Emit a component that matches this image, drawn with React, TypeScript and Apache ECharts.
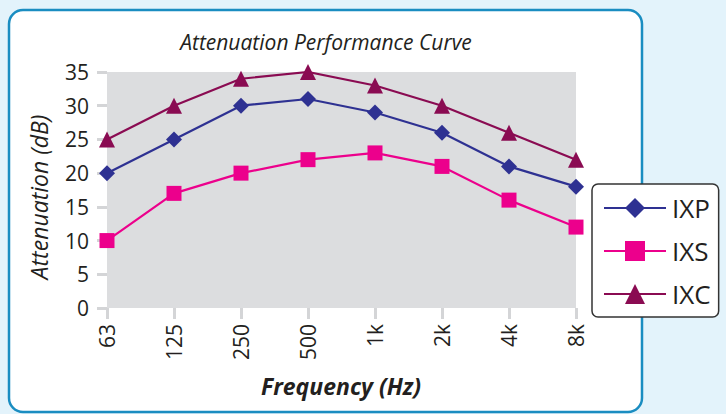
import React, { useEffect, useRef } from "react";
import * as echarts from "echarts";

const categories = ["63", "125", "250", "500", "1k", "2k", "4k", "8k"];
const ixp = [20, 25, 30, 31, 29, 26, 21, 18];
const ixs = [10, 17, 20, 22, 23, 21, 16, 12];
const ixc = [25, 30, 34, 35, 33, 30, 26, 22];
const yTicks = { min: 0, max: 35, interval: 5 };

const FONT = "'Open Sans', 'Noto Sans', sans-serif";
const TXT = "#231f20";

export default function App() {
  const ref = useRef<HTMLDivElement>(null);
  useEffect(() => {
    const chart = echarts.init(ref.current!, null, { renderer: "svg" });
    const mk = (name: string, data: number[], color: string, symbol: string, size: number) => ({
      name,
      type: "line",
      data,
      symbol,
      symbolSize: size,
      color,
      lineStyle: { color, width: 2.2 },
      itemStyle: { color },
      z: 5,
    });
    chart.setOption({
      animation: false,
      backgroundColor: "#e3f3fb",
      textStyle: { fontFamily: FONT },
      graphic: [
        {
          type: "rect",
          z: -10,
          shape: { x: 9, y: 10, width: 633, height: 402, r: 14 },
          style: { fill: "#ffffff", stroke: "#1a8dc1", lineWidth: 2.5 },
        },
        {
          type: "text",
          x: 326,
          y: 42,
          style: {
            text: "Attenuation Performance Curve",
            font: `italic 21px ${FONT}`,
            fill: TXT,
            textAlign: "center",
            textVerticalAlign: "middle",
          },
        },
        {
          type: "text",
          x: 39,
          y: 197,
          rotation: Math.PI / 2,
          style: {
            text: "Attenuation (dB)",
            font: `italic 23px ${FONT}`,
            fill: TXT,
            textAlign: "center",
            textVerticalAlign: "middle",
          },
        },
        {
          type: "text",
          x: 341,
          y: 386,
          style: {
            text: "Frequency (Hz)",
            font: `italic bold 23px ${FONT}`,
            fill: TXT,
            textAlign: "center",
            textVerticalAlign: "middle",
          },
        },
      ],
      grid: {
        left: 107,
        top: 72,
        width: 469,
        height: 236,
        show: true,
        backgroundColor: "#dcdddf",
        borderWidth: 0,
      },
      xAxis: {
        type: "category",
        data: categories,
        boundaryGap: false,
        axisLine: { show: false },
        axisTick: { show: true, length: 11, lineStyle: { color: "#d4d5d7", width: 3 } },
        axisLabel: { rotate: 90, margin: 16, fontSize: 21, color: TXT, fontFamily: FONT },
        splitLine: { show: false },
      },
      yAxis: {
        type: "value",
        min: yTicks.min,
        max: yTicks.max,
        interval: yTicks.interval,
        axisLine: { show: false },
        axisTick: { show: true, length: 10, lineStyle: { color: "#d4d5d7", width: 3 } },
        axisLabel: { margin: 18, fontSize: 21, color: TXT, fontFamily: FONT },
        splitLine: { show: false },
      },
      legend: {
        orient: "vertical",
        left: 592,
        top: 184,
        padding: [11, 8, 10, 11],
        itemGap: 17,
        itemWidth: 62,
        itemHeight: 25,
        backgroundColor: "#ffffff",
        borderColor: "#333333",
        borderWidth: 1.5,
        borderRadius: 6,
        textStyle: { fontSize: 26, lineHeight: 25, color: TXT, fontFamily: FONT, padding: [0, 0, 0, 1] },
        data: ["IXP", "IXS", "IXC"],
      },
      series: [
        mk("IXP", ixp, "#2e3192", "diamond", 16),
        mk("IXS", ixs, "#ec008c", "rect", 15),
        mk("IXC", ixc, "#8a0b52", "triangle", 16),
      ],
    });
    return () => chart.dispose();
  }, []);
  return (
    <div
      ref={ref}
      style={{ position: "fixed", left: 0, top: 0, width: 726, height: 414 }}
    />
  );
}
